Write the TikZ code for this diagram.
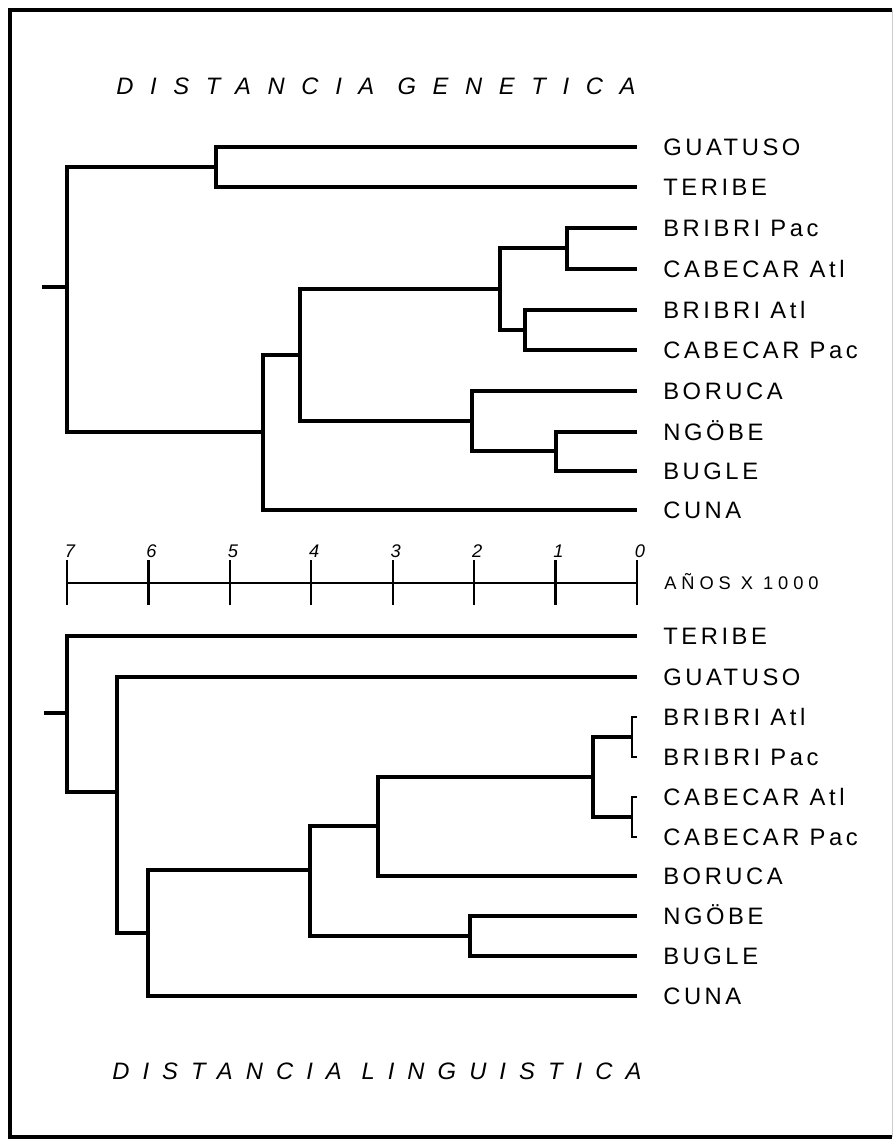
\documentclass[tikz,border=0pt]{standalone}
\usepackage{fontspec}
\setmainfont{Liberation Sans}
\newfontfamily\taxonfont[LetterSpace=15]{Liberation Sans}
\newfontfamily\headfont[LetterSpace=70]{Liberation Sans}
\newfontfamily\headfontb[LetterSpace=55]{Liberation Sans}
\newfontfamily\yearsfont[LetterSpace=27]{Liberation Sans}

\begin{document}
\begin{tikzpicture}[x=0.025cm, y=-0.025cm,
  branch/.style={line width=2.2pt},
  twig/.style={line width=1.2pt},
  taxon/.style={anchor=west, inner xsep=0.65cm, inner ysep=0pt,
    text height=12pt, text depth=0pt,
    font=\taxonfont\fontsize{16.9}{18}\selectfont},
  heading/.style={anchor=west, inner sep=0pt, text height=12pt, text depth=0pt,
    font=\headfont\itshape\fontsize{16.9}{18}\selectfont},
  ticklab/.style={inner sep=0pt, font=\itshape\fontsize{13}{14}\selectfont},
  years/.style={anchor=west, inner sep=0pt, text height=9pt, text depth=0pt,
    font=\yearsfont\fontsize{13}{14}\selectfont}]
\useasboundingbox (0,0) rectangle (896,1140);
% frame
\draw[line width=2.2pt] (892,10) -- (10,10) -- (10,1137) -- (892,1137);
\draw[line width=0.6pt, black!20] (892,10) -- (892,1137);
%
% genetic tree
\node[heading] (hGen) at (116,86) {DISTANCIA GENETICA};
\node[taxon] (gGua) at (637,147) {GUATUSO};
\node[taxon] (gTer) at (637,187) {TERIBE};
\node[taxon] (gBpa) at (637,228) {BRIBRI Pac};
\node[taxon] (gCat) at (637,269) {CABECAR Atl};
\node[taxon] (gBat) at (637,310) {BRIBRI Atl};
\node[taxon] (gCpa) at (637,350) {CABECAR Pac};
\node[taxon] (gBor) at (637,391) {BORUCA};
\node[taxon] (gNgo) at (637,432) {NGÖBE};
\node[taxon] (gBug) at (637,471) {BUGLE};
\node[taxon] (gCun) at (637,510) {CUNA};
\coordinate (gA) at (216,167);
\coordinate (gB) at (567,248);
\coordinate (gC) at (525,330);
\coordinate (gD) at (500,289);
\coordinate (gE) at (556,451);
\coordinate (gF) at (472,421);
\coordinate (gG) at (300,355);
\coordinate (gH) at (263,432);
\coordinate (gR) at (67,287);
\coordinate (gS) at (42,287);
\draw[branch] (gGua.west) -| (gA) |- (gTer.west);
\draw[branch] (gBpa.west) -| (gB) |- (gCat.west);
\draw[branch] (gBat.west) -| (gC) |- (gCpa.west);
\draw[branch] (gB) -| (gD) |- (gC);
\draw[branch] (gNgo.west) -| (gE) |- (gBug.west);
\draw[branch] (gBor.west) -| (gF) |- (gE);
\draw[branch] (gD) -| (gG) |- (gF);
\draw[branch] (gG) -| (gH) |- (gCun.west);
\draw[branch] (gA) -| (gR) |- (gH);
\draw[branch] (gS) -- (gR);
%
% time scale
\foreach \k in {0,...,7} {
  \coordinate (t\k) at ({637-81.43*\k},583);
  \draw[line width=1.6pt] (t\k) ++(0,-23) -- ++(0,45);
  \node[ticklab] (n\k) at ({640-81.43*\k},551) {\k};
}
\draw[line width=1.6pt] (t7) -- (t0);
\node[years] (yrs) at (664,583) {AÑOS X 1000};
%
% linguistic tree
\node[taxon] (lTer) at (637,636) {TERIBE};
\node[taxon] (lGua) at (637,677) {GUATUSO};
\node[taxon] (lBat) at (637,717) {BRIBRI Atl};
\node[taxon] (lBpa) at (637,757) {BRIBRI Pac};
\node[taxon] (lCat) at (637,797) {CABECAR Atl};
\node[taxon] (lCpa) at (637,837) {CABECAR Pac};
\node[taxon] (lBor) at (637,876) {BORUCA};
\node[taxon] (lNgo) at (637,916) {NGÖBE};
\node[taxon] (lBug) at (637,956) {BUGLE};
\node[taxon] (lCun) at (637,996) {CUNA};
\coordinate (lA) at (632,737);
\coordinate (lB) at (632,817);
\coordinate (lC) at (593,777);
\coordinate (lD) at (378,826);
\coordinate (lE) at (470,936);
\coordinate (lF) at (310,870);
\coordinate (lG) at (148,933);
\coordinate (lH) at (117,792);
\coordinate (lR) at (67,713);
\coordinate (lS) at (44,713);
\draw[twig] (lBat.west) -| (lA) |- (lBpa.west);
\draw[twig] (lCat.west) -| (lB) |- (lCpa.west);
\draw[branch] (lA) -| (lC) |- (lB);
\draw[branch] (lC) -| (lD) |- (lBor.west);
\draw[branch] (lNgo.west) -| (lE) |- (lBug.west);
\draw[branch] (lD) -| (lF) |- (lE);
\draw[branch] (lF) -| (lG) |- (lCun.west);
\draw[branch] (lGua.west) -| (lH) |- (lG);
\draw[branch] (lTer.west) -| (lR) |- (lH);
\draw[branch] (lS) -- (lR);
\node[heading, font=\headfontb\itshape\fontsize{16.9}{18}\selectfont] (hLin) at (112,1071) {DISTANCIA LINGUISTICA};
\end{tikzpicture}
\end{document}
